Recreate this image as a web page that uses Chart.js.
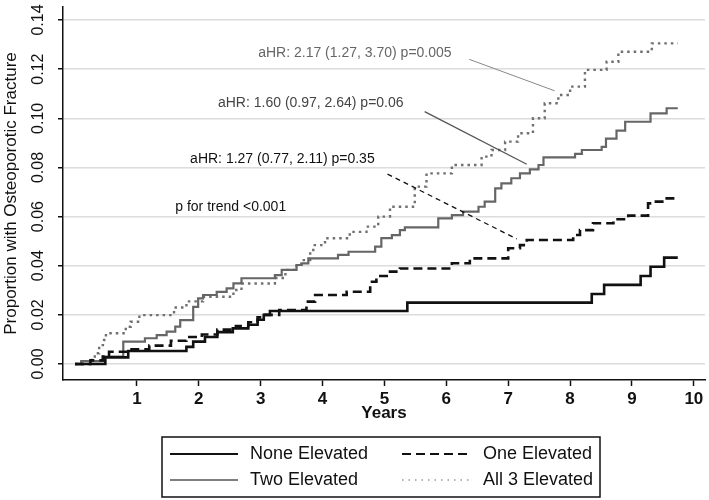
<!DOCTYPE html>
<html>
<head>
<meta charset="utf-8">
<script src="https://cdn.jsdelivr.net/npm/chart.js@4.4.1/dist/chart.umd.min.js"></script>
<style>
  html, body { margin: 0; padding: 0; background: #fff; }
  #wrap { width: 709px; height: 500px; position: relative; }
</style>
</head>
<body>
<div id="wrap"><canvas id="kmChart"></canvas></div>
<script>
// ---- data ----
const xTickVals = [1, 2, 3, 4, 5, 6, 7, 8, 9, 10];
const yTickVals = [0, 0.02, 0.04, 0.06, 0.08, 0.10, 0.12, 0.14];
const yTickLabels = ['0.00', '0.02', '0.04', '0.06', '0.08', '0.10', '0.12', '0.14'];
const seriesNames = ['None Elevated', 'One Elevated', 'Two Elevated', 'All 3 Elevated'];

// time (years) where each step starts, and the cumulative proportion after it
const noneT = [0, 0.49, 0.86, 1.80, 1.91, 2.10, 2.30, 2.55, 2.80, 2.95, 3.05, 3.15, 5.37, 8.35, 8.55, 9.14, 9.30, 9.52, 9.74];
const noneV = [0, 0.0027, 0.0053, 0.0070, 0.0091, 0.0110, 0.0130, 0.0145, 0.0160, 0.0180, 0.0200, 0.0216, 0.0250, 0.0285, 0.0322, 0.0358, 0.0396, 0.0433, 0.0433];

const oneT = [0, 0.25, 0.45, 0.55, 0.85, 1.20, 1.55, 1.80, 2.05, 2.30, 2.60, 2.80, 2.95, 3.05, 3.30, 3.74, 3.88, 4.39, 4.77, 4.87, 5.09, 5.25, 6.09, 6.38, 7.00, 7.19, 7.30, 8.05, 8.16, 8.37, 8.70, 8.94, 9.26, 9.34, 9.53, 9.74];
const oneV = [0, 0.0015, 0.0030, 0.0050, 0.0060, 0.0075, 0.0095, 0.0110, 0.0120, 0.0140, 0.0155, 0.0170, 0.0190, 0.0200, 0.0220, 0.0254, 0.0281, 0.0294, 0.0335, 0.0358, 0.0376, 0.0389, 0.0410, 0.0430, 0.0471, 0.0484, 0.0505, 0.0525, 0.0545, 0.0573, 0.0589, 0.0604, 0.0654, 0.0661, 0.0674, 0.0674];

const twoT = [0, 0.10, 0.45, 0.78, 1.13, 1.32, 1.48, 1.62, 1.70, 1.91, 1.99, 2.07, 2.29, 2.45, 2.56, 2.69, 3.23, 3.34, 3.58, 3.66, 3.77, 4.25, 4.42, 4.85, 4.95, 5.12, 5.25, 5.33, 5.87, 6.09, 6.27, 6.52, 6.62, 6.79, 6.89, 7.05, 7.19, 7.35, 7.49, 7.57, 8.08, 8.19, 8.51, 8.58, 8.75, 8.89, 9.30, 9.56, 9.74];
const twoV = [0, 0.0012, 0.0030, 0.0091, 0.0105, 0.0118, 0.0132, 0.0152, 0.0179, 0.0233, 0.0267, 0.0281, 0.0294, 0.0308, 0.0328, 0.0349, 0.0362, 0.0383, 0.0403, 0.0410, 0.0430, 0.0444, 0.0457, 0.0478, 0.0512, 0.0525, 0.0545, 0.0556, 0.0593, 0.0606, 0.0620, 0.0640, 0.0661, 0.0715, 0.0735, 0.0756, 0.0776, 0.0792, 0.0810, 0.0841, 0.0855, 0.0871, 0.0884, 0.0917, 0.0950, 0.0986, 0.1020, 0.1041, 0.1041];

const allT = [0, 0.27, 0.32, 0.39, 0.47, 0.50, 0.82, 0.90, 1.04, 1.60, 1.80, 2.07, 2.56, 2.69, 3.23, 3.40, 3.58, 3.66, 3.80, 3.85, 4.04, 4.44, 4.71, 4.90, 5.09, 5.49, 5.68, 6.09, 6.57, 6.73, 6.95, 7.16, 7.40, 7.59, 7.81, 8.00, 8.24, 8.59, 8.78, 9.32, 9.74];
const allV = [0, 0.0023, 0.0044, 0.0077, 0.0098, 0.0125, 0.0152, 0.0172, 0.0199, 0.0230, 0.0255, 0.0274, 0.0301, 0.0328, 0.0350, 0.0383, 0.0405, 0.0423, 0.0457, 0.0484, 0.0512, 0.0538, 0.0559, 0.0600, 0.0640, 0.0722, 0.0776, 0.0810, 0.0844, 0.0871, 0.0905, 0.0939, 0.1000, 0.1061, 0.1095, 0.1129, 0.1197, 0.1230, 0.1271, 0.1305, 0.1305];

const noteTexts = ['aHR: 2.17 (1.27, 3.70) p=0.005', 'aHR: 1.60 (0.97, 2.64) p=0.06', 'aHR: 1.27 (0.77, 2.11) p=0.35', 'p for trend <0.001'];

const FONT = "'Liberation Sans', Arial, sans-serif";

function toPoints(ts, vs) {
    return ts.map((t, i) => ({ x: t, y: vs[i] }));
}

const datasets = [
    { label: seriesNames[0], data: toPoints(noneT, noneV), borderColor: '#111', borderWidth: 2.6, borderDash: [] },
    { label: seriesNames[1], data: toPoints(oneT, oneV), borderColor: '#111', borderWidth: 2.6, borderDash: [9, 5] },
    { label: seriesNames[2], data: toPoints(twoT, twoV), borderColor: '#666', borderWidth: 2.2, borderDash: [] },
    { label: seriesNames[3], data: toPoints(allT, allV), borderColor: '#707070', borderWidth: 2.4, borderDash: [2.5, 4] }
].map(d => Object.assign(d, { stepped: 'before', pointRadius: 0, fill: false, tension: 0 }));

// legend samples, Stata style
const legendStyle = [
    { color: '#111', width: 2, dash: [] },
    { color: '#111', width: 2, dash: [9, 5] },
    { color: '#555', width: 1.6, dash: [] },
    { color: '#666', width: 1.2, dash: [1.5, 5] }
];

// extras drawn on top: y tick labels (rotated), titles, notes, legend box
const extrasPlugin = {
    id: 'extras',
    afterDraw(chart) {
        const ctx = chart.ctx;
        const xs = chart.scales.x;
        const ys = chart.scales.y;
        ctx.save();

        // rotated y tick labels
        ctx.fillStyle = '#111';
        ctx.font = '16px ' + FONT;
        ctx.textAlign = 'center';
        ctx.textBaseline = 'middle';
        yTickVals.forEach((v, i) => {
            ctx.save();
            ctx.translate(39, ys.getPixelForValue(v));
            ctx.rotate(-Math.PI / 2);
            ctx.fillText(yTickLabels[i], 0, 0);
            ctx.restore();
        });

        // y title
        ctx.save();
        ctx.font = '17px ' + FONT;
        ctx.translate(11, (chart.chartArea.top + chart.chartArea.bottom) / 2);
        ctx.rotate(-Math.PI / 2);
        ctx.fillText('Proportion with Osteoporotic Fracture', 0, 0);
        ctx.restore();

        // x title
        ctx.font = 'bold 17px ' + FONT;
        ctx.fillText('Years', (chart.chartArea.left + chart.chartArea.right) / 2, 413);

        // notes with leader lines
        const notes = [
            { t: 2.96, v: 0.1265, color: '#666', line: [6.37, 0.1240, 7.75, 0.1112], lc: '#888', lw: 1, dash: [] },
            { t: 2.31, v: 0.1061, color: '#444', line: [5.65, 0.1027, 7.30, 0.0813], lc: '#555', lw: 1.3, dash: [] },
            { t: 1.86, v: 0.0834, color: '#111', line: [5.05, 0.0773, 7.14, 0.0509], lc: '#111', lw: 1.3, dash: [5, 4] },
            { t: 1.62, v: 0.0638, color: '#111', line: null }
        ];
        ctx.font = '14px ' + FONT;
        ctx.textAlign = 'left';
        notes.forEach((n, i) => {
            ctx.fillStyle = n.color;
            ctx.fillText(noteTexts[i], xs.getPixelForValue(n.t), ys.getPixelForValue(n.v));
            if (n.line) {
                ctx.beginPath();
                ctx.strokeStyle = n.lc;
                ctx.lineWidth = n.lw;
                ctx.setLineDash(n.dash);
                ctx.moveTo(xs.getPixelForValue(n.line[0]), ys.getPixelForValue(n.line[1]));
                ctx.lineTo(xs.getPixelForValue(n.line[2]), ys.getPixelForValue(n.line[3]));
                ctx.stroke();
            }
        });
        ctx.setLineDash([]);

        // legend box, two columns: None / One on top, Two / All 3 below
        const bx = 162, by = 437, bw = 438, bh = 60;
        ctx.strokeStyle = '#111';
        ctx.lineWidth = 1.5;
        ctx.strokeRect(bx, by, bw, bh);
        const cols = [{ x0: 170, x1: 238, tx: 250 }, { x0: 402, x1: 471, tx: 483 }];
        const rows = [454, 480];
        const place = [[0, 0], [1, 0], [0, 1], [1, 1]];
        ctx.font = '18px ' + FONT;
        ctx.fillStyle = '#111';
        seriesNames.forEach((name, k) => {
            const [c, r] = place[k];
            const st = legendStyle[k];
            ctx.beginPath();
            ctx.strokeStyle = st.color;
            ctx.lineWidth = st.width;
            ctx.setLineDash(st.dash);
            ctx.moveTo(cols[c].x0, rows[r]);
            ctx.lineTo(cols[c].x1, rows[r]);
            ctx.stroke();
            ctx.setLineDash([]);
            ctx.fillText(name, cols[c].tx, rows[r]);
        });

        ctx.restore();
    }
};

const ctx = document.getElementById('kmChart').getContext('2d');
new Chart(ctx, {
    type: 'line',
    data: { datasets: datasets },
    options: {
        responsive: true,
        maintainAspectRatio: false,
        animation: false,
        devicePixelRatio: 1,
        layout: { padding: { top: 7, right: 4, left: 0, bottom: 0 } },
        plugins: { legend: { display: false }, tooltip: { enabled: false } },
        scales: {
            x: {
                type: 'linear',
                min: -0.194,
                max: 10.18,
                afterBuildTicks: s => { s.ticks = xTickVals.map(v => ({ value: v })); },
                afterFit: s => { s.height = 500 - 380; },
                ticks: { color: '#111', font: { family: FONT, size: 17, weight: 'bold' }, padding: 3, maxRotation: 0, autoSkip: false },
                grid: { drawOnChartArea: false, drawTicks: true, tickLength: 6, tickColor: '#111', tickWidth: 1.5 },
                border: { color: '#111', width: 1.5 }
            },
            y: {
                type: 'linear',
                min: -0.0065,
                max: 0.1453,
                afterBuildTicks: s => { s.ticks = yTickVals.map(v => ({ value: v })); },
                afterFit: s => { s.width = 63; },
                ticks: { display: false },
                grid: { color: '#dcdcdc', lineWidth: 1.5, drawTicks: true, tickLength: 5, tickColor: '#111', tickWidth: 1.5 },
                border: { color: '#111', width: 1.5 }
            }
        }
    },
    plugins: [extrasPlugin]
});
</script>
</body>
</html>
